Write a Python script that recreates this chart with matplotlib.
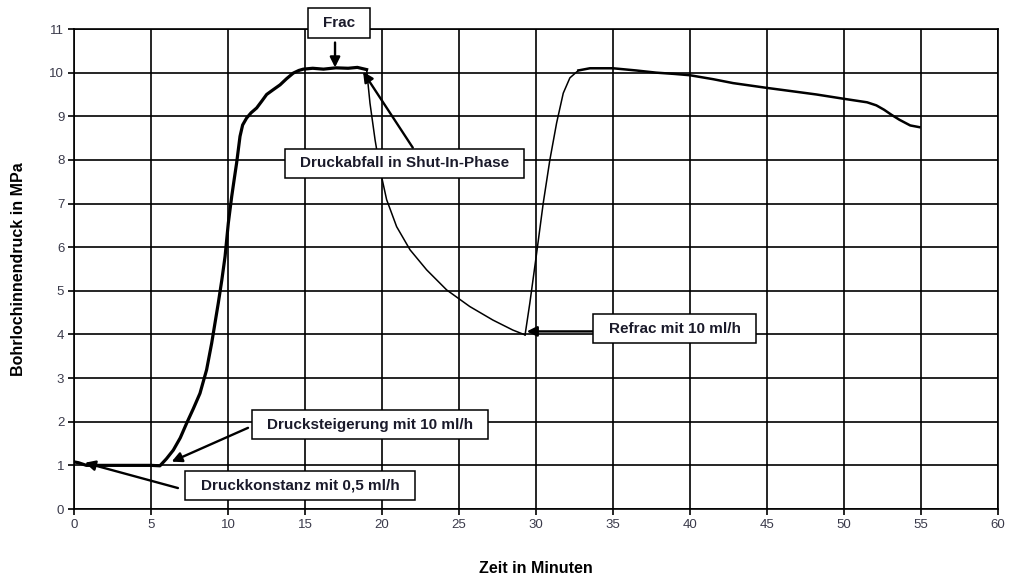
import matplotlib
matplotlib.use("Agg")
import matplotlib.pyplot as plt

plt.rcParams['font.family'] = ['Liberation Sans', 'DejaVu Sans']

# Phase 1: constant pressure, pressure rise, frac plateau (thick line)
t_rise = [0.0, 0.3, 0.8, 2.0, 3.5, 5.0, 5.58, 6.0, 6.45, 6.9, 7.32, 7.75, 8.18, 8.61, 8.94,
          9.15, 9.37, 9.6, 9.81, 10.02, 10.24, 10.4, 10.56, 10.78, 10.95, 11.21, 11.5,
          11.86, 12.2, 12.51, 12.9, 13.38, 13.8, 14.24, 14.6, 14.89, 15.5,
          16.2, 17.0, 17.8, 18.4, 19.0]
p_rise = [1.08, 1.06, 1.0, 1.0, 1.0, 1.0, 0.99, 1.15, 1.35, 1.63, 1.97, 2.3, 2.65, 3.19, 3.80,
          4.25, 4.72, 5.25, 5.79, 6.55, 7.16, 7.55, 7.93, 8.54, 8.8, 8.96, 9.08,
          9.19, 9.35, 9.50, 9.6, 9.72, 9.86, 9.99, 10.05, 10.08, 10.10,
          10.08, 10.11, 10.10, 10.12, 10.07]

# Phase 2: shut-in pressure drop (thin line)
t_drop = [19.0, 19.22, 19.55, 19.87, 20.3, 20.95, 21.82, 22.9, 24.2, 25.7, 27.2, 28.5, 29.29]
p_drop = [10.07, 9.3, 8.46, 7.78, 7.09, 6.47, 5.94, 5.48, 5.02, 4.64, 4.33, 4.10, 3.99]

# Phase 3: refrac rise (thin line)
t_refrac = [29.29, 29.6, 30.04, 30.47, 30.9, 31.34, 31.77, 32.2, 32.75]
p_refrac = [3.99, 4.72, 5.86, 7.01, 8.0, 8.85, 9.53, 9.88, 10.05]

# Phase 4: second plateau / decline
t_decl = [32.75, 33.5, 35.0, 36.5, 37.8, 39.0, 40.0, 41.5, 42.8, 44.0, 45.0, 46.5, 48.2,
          50.0, 51.5, 52.1, 52.6, 53.1, 53.6, 54.3, 54.9]
p_decl = [10.05, 10.10, 10.10, 10.05, 10.0, 9.97, 9.94, 9.85, 9.76, 9.70, 9.65, 9.58, 9.50,
          9.40, 9.32, 9.25, 9.15, 9.03, 8.92, 8.79, 8.75]

x_ticks = [0, 5, 10, 15, 20, 25, 30, 35, 40, 45, 50, 55, 60]
y_ticks = [0, 1, 2, 3, 4, 5, 6, 7, 8, 9, 10, 11]

labels = ["Frac", "Druckabfall in Shut-In-Phase", "Refrac mit 10 ml/h",
          "Drucksteigerung mit 10 ml/h", "Druckkonstanz mit 0,5 ml/h"]
label_pos = [(17.2, 11.14), (21.46, 7.92), (39.0, 4.13), (19.22, 1.93), (14.68, 0.54)]
arrow_from = [(16.95, 10.69), (22.0, 8.28), (33.9, 4.07), (11.3, 1.86), (6.75, 0.48)]
arrow_to = [(16.95, 10.12), (18.77, 10.02), (29.4, 4.07), (6.34, 1.085), (0.71, 1.06)]

fig = plt.figure(figsize=(10.1, 5.8), dpi=100)
ax = fig.add_axes([74/1010, 1-509/580, (998-74)/1010, (509-29)/580])

ax.plot(t_rise, p_rise, color='black', lw=2.3, solid_joinstyle='round', zorder=3)
ax.plot(t_drop, p_drop, color='black', lw=1.1, zorder=3)
ax.plot(t_refrac, p_refrac, color='black', lw=1.1, zorder=3)
ax.plot(t_decl, p_decl, color='black', lw=1.8, zorder=3)

ax.set_xlim(0, 60)
ax.set_ylim(0, 11)
ax.set_xticks(x_ticks)
ax.set_yticks(y_ticks)
ax.grid(True, color='black', lw=1.2)
ax.set_axisbelow(True)
for s in ax.spines.values():
    s.set_color('black')
    s.set_linewidth(1.2)
ax.tick_params(direction='out', length=4, width=1.2, colors='black',
               labelcolor='#3a3a4a', labelsize=9.5, pad=3)

ax.set_xlabel("Zeit in Minuten", fontsize=11.5, fontweight='bold', labelpad=22)
ax.set_ylabel("Bohrlochinnendruck in MPa", fontsize=11.5, fontweight='bold', labelpad=17)

for lab, (lx, ly) in zip(labels, label_pos):
    ax.text(lx, ly, lab, ha='center', va='center', fontsize=11, fontweight='bold',
            color='#1a1a2a', zorder=5, clip_on=False,
            bbox=dict(boxstyle='square,pad=1.0', fc='white', ec='black', lw=1.1,
                      mutation_aspect=0.5))

for (fx, fy), (tx, ty) in zip(arrow_from, arrow_to):
    ax.annotate('', xy=(tx, ty), xytext=(fx, fy), zorder=4, annotation_clip=False,
                arrowprops=dict(arrowstyle='-|>', color='black', lw=1.7,
                                mutation_scale=15, shrinkA=0, shrinkB=0))

fig.savefig("out.png", dpi=100)
